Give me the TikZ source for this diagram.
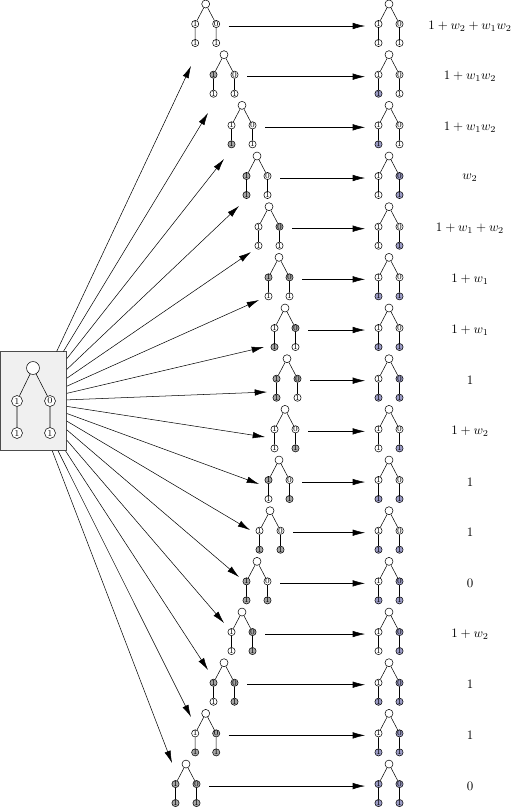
\documentclass[tikz,border=0pt]{standalone}
\usetikzlibrary{arrows.meta}
\definecolor{leafgrey}{HTML}{A6A6A6}
\definecolor{lilac}{HTML}{9C9CC6}
\tikzset{
  mainbox/.style={draw=black!70,fill=black!6,minimum width=51.7pt,minimum height=76.7pt,inner sep=0pt},
  bigroot/.style={circle,draw,fill=white,minimum size=10pt,inner sep=0pt},
  bignode/.style={circle,draw,fill=white,minimum size=8.5pt,inner sep=0pt,font=\scriptsize},
  troot/.style={circle,draw,fill=white,minimum size=6.2pt,inner sep=0pt},
  tnode/.style={circle,draw,minimum size=5.6pt,inner sep=0pt,font=\fontsize{6}{6}\selectfont},
  f0/.style={fill=white}, f1/.style={fill=leafgrey},
  p0/.style={fill=white}, p1/.style={fill=lilac},
  arr/.style={-{Latex[length=9.5pt,width=5pt]}},
  weight/.style={inner sep=0pt}
}
% one small tree: name, root x, root y, fills of the four lower nodes
\newcommand{\subtree}[7]{%
  \node[troot] (#1-r) at (#2,#3) {};
  \node[tnode,#4] (#1-a) at (#2-10.5,#3+20) {1};
  \node[tnode,#5] (#1-b) at (#2-10.5,#3+39) {1};
  \node[tnode,#6] (#1-c) at (#2+10.5,#3+20) {0};
  \node[tnode,#7] (#1-d) at (#2+10.5,#3+39) {1};
  \draw (#1-r) -- (#1-a) -- (#1-b) (#1-r) -- (#1-c) -- (#1-d);
}
\begin{document}
\begin{tikzpicture}[x=0.775pt,y=-0.775pt]
  \useasboundingbox (0,0) rectangle (511,809);
  % the starting tree
  \node[mainbox] (box) at (33.3,401.2) {};
  \node[bigroot] (mr) at (33,368) {};
  \node[bignode] (ma) at (17,401) {1};
  \node[bignode] (mc) at (50,401) {0};
  \node[bignode] (mb) at (17,433) {1};
  \node[bignode] (md) at (50,433) {1};
  \draw (mr) -- (ma) -- (mb) (mr) -- (mc) -- (md);
  % the sixteen colourings and their images
  \foreach \i/\x/\tx/\ty/\ra/\rb/\rc/\rd/\lab in {
      1/205.7/191/66/0/0/0/0/{$1+w_2+w_1w_2$},
      2/224/208/113/0/1/0/0/{$1+w_1w_2$},
      3/242/224/159/0/1/0/0/{$1+w_1w_2$},
      4/257/239/206/0/0/1/1/{$w_2$},
      5/269/251/252/0/0/0/1/{$1+w_1+w_2$},
      6/279/259/300/0/1/0/1/{$1+w_1$},
      7/285/264/347/0/1/0/1/{$1+w_1$},
      8/287/267/392/0/1/1/1/{$1$},
      9/285/265/437/0/0/0/1/{$1+w_2$},
      10/279/259/484/0/1/0/1/{$1$},
      11/270/250/530/0/1/0/1/{$1$},
      12/257/239/577/0/1/1/1/{$0$},
      13/242/224/623/0/0/1/1/{$1+w_2$},
      14/224/208/670/0/1/1/1/{$1$},
      15/205.7/191/717/0/1/1/1/{$1$},
      16/186/172/763/1/1/1/1/{$0$}}{
    \pgfmathsetmacro\y{4+50.67*(\i-1)}
    \pgfmathtruncatemacro\la{mod(\i-1,2)}
    \pgfmathtruncatemacro\lb{mod(floor((\i-1)/2),2)}
    \pgfmathtruncatemacro\lc{mod(floor((\i-1)/4),2)}
    \pgfmathtruncatemacro\ld{mod(floor((\i-1)/8),2)}
    \subtree{L\i}{\x}{\y}{f\la}{f\lb}{f\lc}{f\ld}
    \subtree{R\i}{389}{\y}{p\ra}{p\rb}{p\rc}{p\rd}
    \coordinate (tip\i) at (\tx,\ty);
    \draw[arr] (box) -- (tip\i);
    \coordinate (hs\i) at (\x+23,\y+22);
    \coordinate (he\i) at (365,\y+22);
    \draw[arr] (hs\i) -- (he\i);
    \node[weight] (w\i) at (470,\y+22) {\lab};
  }
\end{tikzpicture}
\end{document}
